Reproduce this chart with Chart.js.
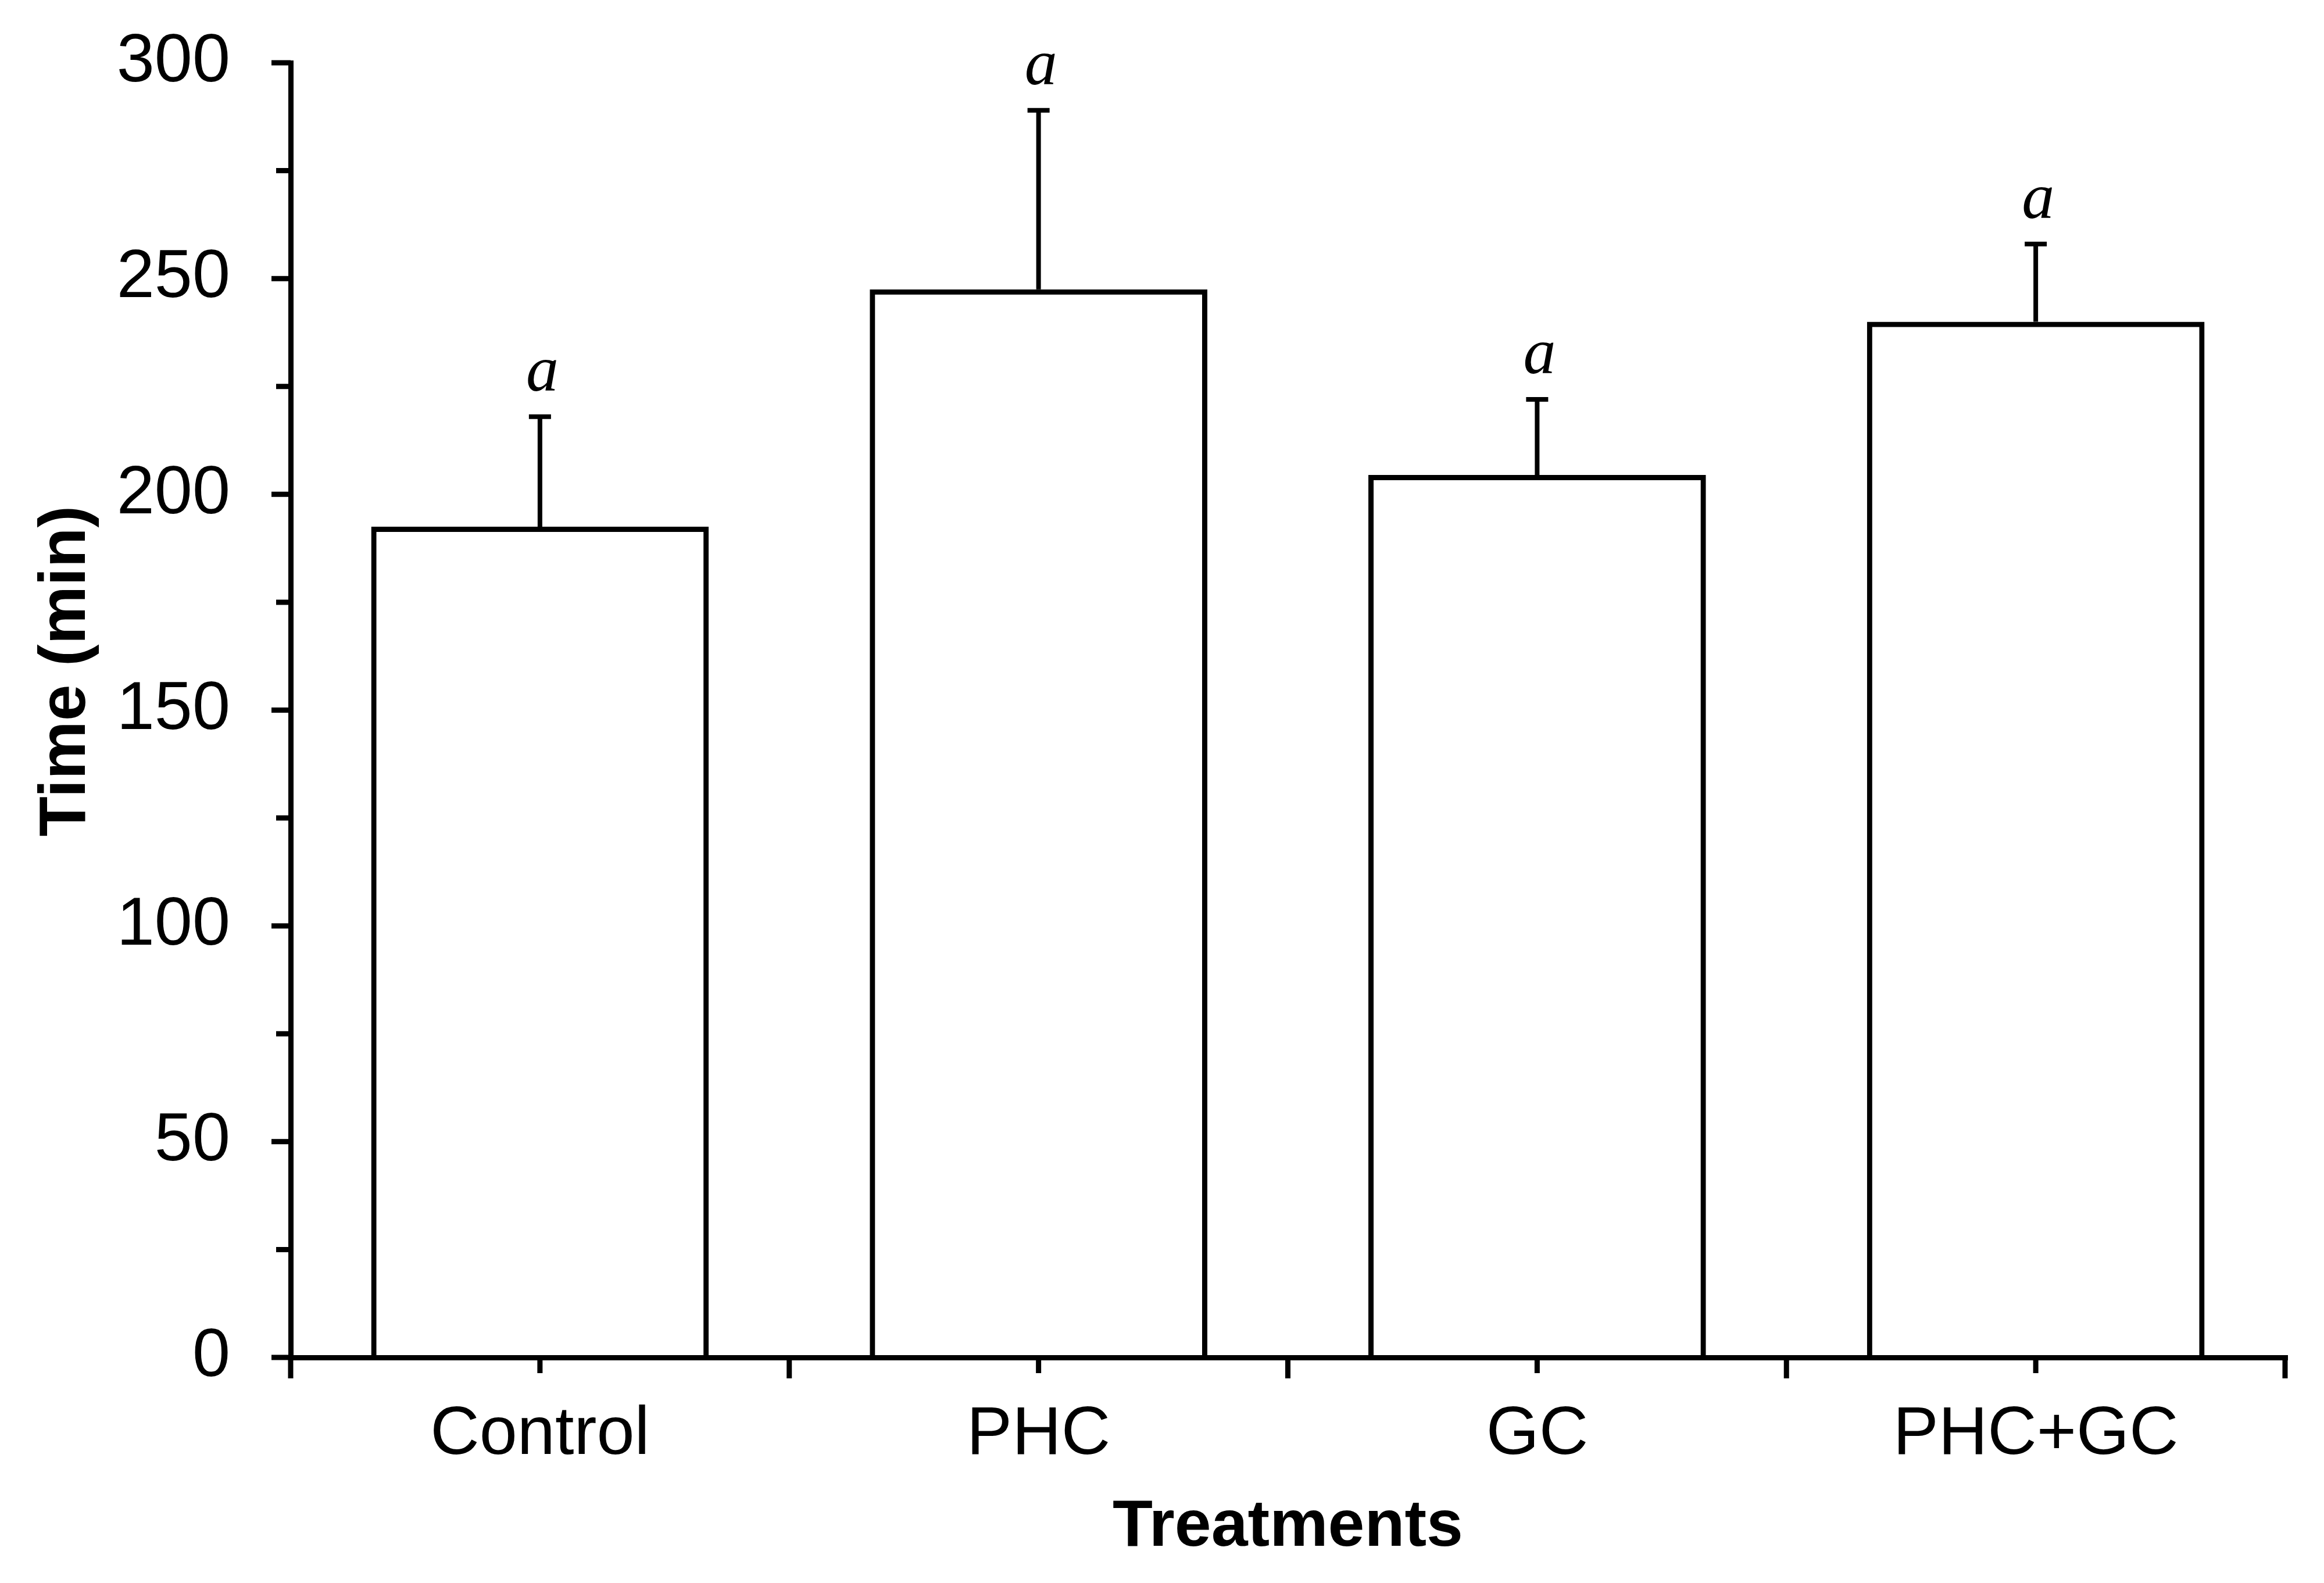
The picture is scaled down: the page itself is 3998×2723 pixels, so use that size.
<!DOCTYPE html>
<html>
<head>
<meta charset="utf-8">
<script src="https://cdn.jsdelivr.net/npm/chart.js@4.4.0/dist/chart.umd.min.js"></script>
<style>
  html, body { margin: 0; padding: 0; background: #fff; }
  canvas { display: block; }
</style>
</head>
<body>
<canvas id="chart" width="3998" height="2723"></canvas>
<script>
const treatments = ['Control', 'PHC', 'GC', 'PHC+GC'];
const meanTime = [192.5, 247.5, 204.5, 240];
const sdTime = [25.5, 41.5, 17.5, 18];
const letters = ['a', 'a', 'a', 'a'];
const yMajorTicks = [0, 50, 100, 150, 200, 250, 300];
const yMinorTicks = [25, 75, 125, 175, 225, 275];

const FONT = '"Liberation Sans", Arial, sans-serif';
const LW = 9;

// error bars + significance letters
const errorBars = {
    id: 'errorBars',
    afterDatasetsDraw(chart) {
        const ctx = chart.ctx;
        const x = chart.scales.x, y = chart.scales.y;
        ctx.save();
        ctx.strokeStyle = '#000';
        ctx.fillStyle = '#000';
        ctx.lineWidth = 8;
        meanTime.forEach((m, i) => {
            const px = x.getPixelForValue(i);
            const yTop = y.getPixelForValue(m);
            const yErr = y.getPixelForValue(m + sdTime[i]);
            ctx.beginPath();
            ctx.moveTo(px, yTop);
            ctx.lineTo(px, yErr);
            ctx.moveTo(px - 19, yErr);
            ctx.lineTo(px + 19, yErr);
            ctx.stroke();
            ctx.font = 'italic 112px "Liberation Serif", "Times New Roman", serif';
            ctx.textAlign = 'center';
            ctx.textBaseline = 'alphabetic';
            ctx.fillText(letters[i], px + 4, yErr - 45);
        });
        ctx.restore();
    }
};

// tick marks of two lengths, and the y title
const axisMarks = {
    id: 'axisMarks',
    afterDraw(chart) {
        const ctx = chart.ctx;
        const x = chart.scales.x, y = chart.scales.y;
        const area = chart.chartArea;
        ctx.save();
        ctx.strokeStyle = '#000';
        ctx.lineWidth = LW;
        ctx.beginPath();
        yMajorTicks.forEach(v => {
            const py = y.getPixelForValue(v);
            ctx.moveTo(area.left - 33, py);
            ctx.lineTo(area.left, py);
        });
        yMinorTicks.forEach(v => {
            const py = y.getPixelForValue(v);
            ctx.moveTo(area.left - 25, py);
            ctx.lineTo(area.left, py);
        });
        // category centres: short ticks
        treatments.forEach((t, i) => {
            const px = x.getPixelForValue(i);
            ctx.moveTo(px, area.bottom);
            ctx.lineTo(px, area.bottom + 27);
        });
        // category boundaries: long ticks
        const half = (x.getPixelForValue(1) - x.getPixelForValue(0)) / 2;
        for (let i = 0; i <= treatments.length; i++) {
            const px = x.getPixelForValue(0) - half + i * 2 * half;
            ctx.moveTo(px, area.bottom);
            ctx.lineTo(px, area.bottom + 36);
        }
        ctx.stroke();

        ctx.fillStyle = '#000';
        ctx.font = 'bold 113px ' + FONT;
        ctx.textAlign = 'center';
        ctx.textBaseline = 'alphabetic';
        ctx.translate(146, (area.top + area.bottom) / 2 - 67);
        ctx.rotate(-Math.PI / 2);
        ctx.fillText('Time (min)', 0, 0);
        ctx.restore();
    }
};

new Chart(document.getElementById('chart'), {
    type: 'bar',
    data: {
        labels: treatments,
        datasets: [{
            data: meanTime,
            backgroundColor: 'rgba(255,255,255,0)',
            borderColor: '#000',
            borderWidth: LW,
            barPercentage: 0.677,
            categoryPercentage: 1.0
        }]
    },
    options: {
        responsive: false,
        animation: false,
        devicePixelRatio: 1,
        layout: { padding: { top: 108, right: 67, left: 0, bottom: 0 } },
        plugins: {
            legend: { display: false },
            tooltip: { enabled: false }
        },
        scales: {
            x: {
                afterFit: s => { s.height = 388; s.paddingLeft = 0; s.paddingRight = 0; },
                grid: { display: false, drawTicks: false, lineWidth: LW },
                border: { display: true, color: '#000', width: LW, z: 1 },
                ticks: {
                    color: '#000',
                    padding: 64,
                    font: { family: FONT, size: 117 }
                },
                title: {
                    display: true,
                    text: 'Treatments',
                    color: '#000',
                    padding: { top: 0, bottom: 27 },
                    font: { family: FONT, size: 113, weight: 'bold' }
                }
            },
            y: {
                min: 0,
                max: 300,
                afterFit: s => { s.width = 500; s.paddingTop = 0; s.paddingBottom = 0; },
                grid: { display: false, drawTicks: false, lineWidth: LW },
                border: { display: true, color: '#000', width: LW, z: 1 },
                ticks: {
                    stepSize: 50,
                    color: '#000',
                    padding: 104,
                    font: { family: FONT, size: 117 }
                }
            }
        }
    },
    plugins: [errorBars, axisMarks]
});
</script>
</body>
</html>
